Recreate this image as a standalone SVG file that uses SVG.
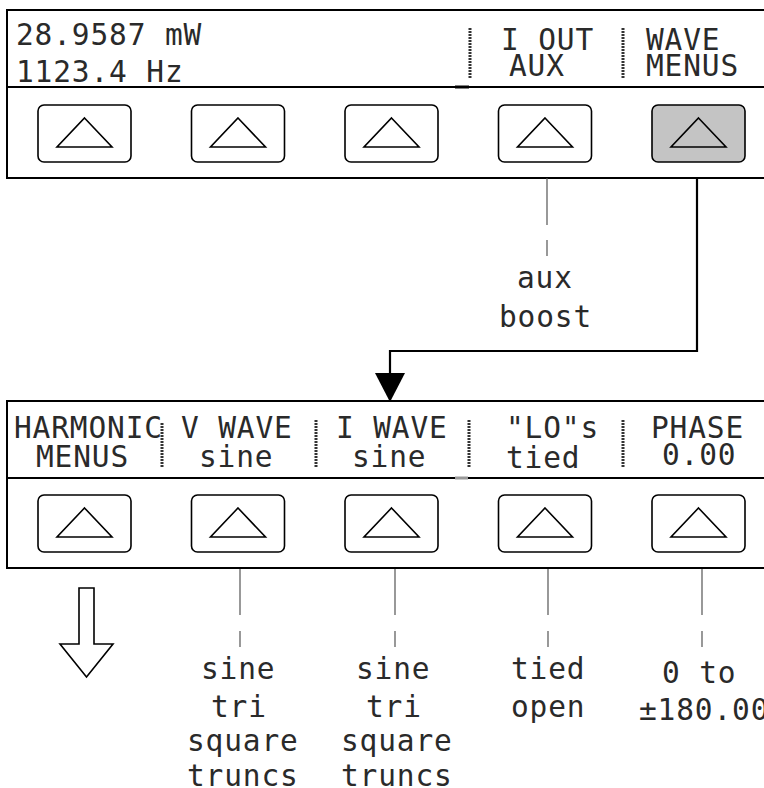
<svg xmlns="http://www.w3.org/2000/svg" width="764" height="788" viewBox="0 0 764 788">
<style>
.lcd{font-family:"DejaVu Sans Mono","Liberation Mono",monospace;font-size:29.5px;letter-spacing:0.85px;fill:#2a2a2a}
.panel{fill:#fff;stroke:#000;stroke-width:2}
.div{stroke:#000;stroke-width:2}
.btn{fill:#fff;stroke:#000;stroke-width:1.6}
.btn.on{fill:#c4c4c4}
.tri{fill:none;stroke:#000;stroke-width:1.6;stroke-linejoin:miter}
.bar{stroke:#333;stroke-width:3;stroke-dasharray:2 1}
.thin{stroke:#555;stroke-width:1.2;fill:none}
.thick{stroke:#000;stroke-width:2.2;fill:none}
</style>
<defs>
<g id="key">
<rect class="btn" x="0" y="0" width="93" height="57" rx="6"/>
<polygon class="tri" points="46.5,13 74,42 19,42"/>
</g>
<g id="keyOn">
<rect class="btn on" x="0" y="0" width="93" height="57" rx="6"/>
<polygon class="tri" points="46.5,13 74,42 19,42"/>
</g>
</defs>
<rect width="764" height="788" fill="#fff"/>

<g id="panel-top">
<rect class="panel" x="7" y="10" width="780" height="168"/>
<line class="div" x1="7" y1="87" x2="787" y2="87"/>
<line x1="455" y1="87" x2="469" y2="87" stroke="#000" stroke-width="3"/>
<text class="lcd" x="16" y="45">28.9587 mW</text>
<text class="lcd" x="16" y="82">1123.4 Hz</text>
<line class="bar" x1="470" y1="28" x2="470" y2="78"/>
<text class="lcd" x="501" y="50">I OUT</text>
<text class="lcd" x="509" y="76">AUX</text>
<line class="bar" x1="623" y1="28" x2="623" y2="78"/>
<text class="lcd" x="646" y="50">WAVE</text>
<text class="lcd" x="646" y="76">MENUS</text>
<use href="#key" x="38" y="105"/>
<use href="#key" x="191.5" y="105"/>
<use href="#key" x="345" y="105"/>
<use href="#key" x="498.5" y="105"/>
<use href="#keyOn" x="652" y="105"/>
</g>

<g id="label-aux">
<text class="lcd" x="517" y="288">aux</text>
<text class="lcd" x="499" y="327">boost</text>
</g>

<g id="panel-wave">
<rect class="panel" x="7" y="401" width="780" height="167"/>
<line class="div" x1="7" y1="478" x2="787" y2="478"/>
<line x1="455" y1="478" x2="468" y2="478" stroke="#999" stroke-width="3"/>
<text class="lcd" x="14" y="438">HARMONIC</text>
<text class="lcd" x="36" y="467">MENUS</text>
<line class="bar" x1="162" y1="423" x2="162" y2="468"/>
<text class="lcd" x="181" y="438">V WAVE</text>
<text class="lcd" x="199" y="467">sine</text>
<line class="bar" x1="316" y1="420" x2="316" y2="468"/>
<text class="lcd" x="336" y="438">I WAVE</text>
<text class="lcd" x="352" y="467">sine</text>
<line class="bar" x1="469" y1="420" x2="469" y2="468"/>
<text class="lcd" x="506" y="438">"LO"s</text>
<text class="lcd" x="506" y="468">tied</text>
<line class="bar" x1="623" y1="420" x2="623" y2="468"/>
<text class="lcd" x="651" y="438">PHASE</text>
<text class="lcd" x="662" y="465">0.00</text>
<use href="#key" x="38" y="495"/>
<use href="#key" x="191.5" y="495"/>
<use href="#key" x="345" y="495"/>
<use href="#key" x="498.5" y="495"/>
<use href="#key" x="652" y="495"/>
</g>

<g id="options-vwave">
<text class="lcd" x="201" y="679">sine</text>
<text class="lcd" x="211" y="717">tri</text>
<text class="lcd" x="187" y="751">square</text>
<text class="lcd" x="187" y="786">truncs</text>
</g>
<g id="options-iwave">
<text class="lcd" x="356" y="679">sine</text>
<text class="lcd" x="366" y="717">tri</text>
<text class="lcd" x="341" y="751">square</text>
<text class="lcd" x="341" y="786">truncs</text>
</g>
<g id="options-lo">
<text class="lcd" x="511" y="679">tied</text>
<text class="lcd" x="511" y="717">open</text>
</g>
<g id="options-phase">
<text class="lcd" x="662" y="683">0 to</text>
<text class="lcd" x="639" y="720">±180.00</text>
</g>

<g id="harmonic-arrow">
<polygon points="79,588 94,588 94,644 113,644 86.5,677 60,644 79,644" fill="#fff" stroke="#000" stroke-width="1.6" stroke-linejoin="miter"/>
</g>

<g id="connectors">
<path class="thin" d="M547 178V225M547 240V256"/>
<path class="thick" d="M697 178V351H390V374"/>
<polygon points="375,373 405,373 390,402" fill="#000"/>
<path class="thin" d="M240 569V615M240 631V647"/>
<path class="thin" d="M395 569V615M395 631V647"/>
<path class="thin" d="M548 569V615M548 631V647"/>
<path class="thin" d="M702 569V615M702 631V647"/>
</g>
</svg>
